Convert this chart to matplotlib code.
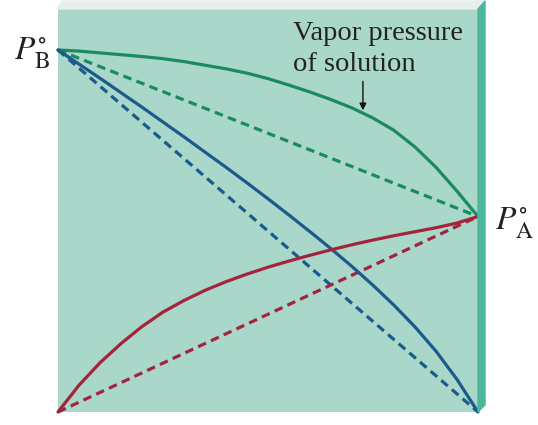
import numpy as np
import matplotlib
matplotlib.use('Agg')
import matplotlib.pyplot as plt
from matplotlib.patches import Polygon

plt.rcParams['mathtext.fontset'] = 'stix'
plt.rcParams['font.family'] = ['Liberation Serif', 'DejaVu Serif']

# mole fraction of A (0 = pure B at left, 1 = pure A at right)
pB0 = 100.0   # vapor pressure of pure B
pA0 = 54.0    # vapor pressure of pure A

# ideal (Raoult's law) straight lines
x_ideal = [0.0, 1.0]
total_ideal = [pB0, pA0]
pB_ideal = [pB0, 0.0]
pA_ideal = [0.0, pA0]

x_real = [0.00, 0.05, 0.10, 0.15, 0.20, 0.25, 0.30, 0.35, 0.40, 0.45, 0.50,
          0.55, 0.60, 0.65, 0.70, 0.75, 0.80, 0.85, 0.90, 0.95, 1.00]
p_total = [100.0, 99.7, 99.2, 98.7, 98.2, 97.6, 96.8, 95.8, 94.8, 93.6, 92.1,
           90.3, 88.4, 86.3, 84.0, 81.2, 77.8, 73.2, 67.6, 61.0, 54.0]
p_B = [100.0, 96.1, 92.2, 88.2, 84.2, 80.1, 76.0, 71.8, 67.6, 63.3, 58.9,
       54.4, 49.8, 45.1, 40.2, 35.0, 29.5, 23.5, 16.8, 9.0, 0.0]
p_A = [0.0, 7.4, 13.6, 18.9, 23.6, 27.6, 30.8, 33.6, 36.0, 38.1, 40.0,
       41.7, 43.3, 44.8, 46.2, 47.5, 48.7, 49.8, 50.9, 52.2, 54.0]

green = '#1b8a60'
blue = '#1d5a8c'
red = '#a3243c'
face = '#a9d7c9'

W, H = 538, 425
fig = plt.figure(figsize=(W / 100, H / 100), dpi=100)
ax = fig.add_axes([58 / W, 13 / H, 420 / W, 403 / H])
ax.set_facecolor(face)
ax.set_xlim(0, 1)
ax.set_ylim(0, 403 / 3.62)
ax.set_xticks([])
ax.set_yticks([])
for s in ax.spines.values():
    s.set_visible(False)

# 3D-looking edges of the panel
def px(pts):
    return [(x / W, 1 - y / H) for x, y in pts]

fig.add_artist(Polygon(px([(57, 9), (478, 9), (485, 1), (62, 1)]),
                       closed=True, color='#e6efeb', transform=fig.transFigure))
fig.add_artist(Polygon(px([(478, 9), (485, 1), (485, 405), (478, 412)]),
                       closed=True, color='#4cb89b', transform=fig.transFigure))

lw = 2.3
dash = (2.7, 1.7)
ax.plot(x_ideal, total_ideal, color=green, lw=lw, dashes=dash, clip_on=False)
ax.plot(x_ideal, pB_ideal, color=blue, lw=lw, dashes=dash, clip_on=False)
ax.plot(x_ideal, pA_ideal, color=red, lw=lw, dashes=dash, clip_on=False)

ax.plot(x_real, p_total, color=green, lw=lw, clip_on=False, solid_capstyle='round')
ax.plot(x_real, p_B, color=blue, lw=lw, clip_on=False, solid_capstyle='round')
ax.plot(x_real, p_A, color=red, lw=lw, clip_on=False, solid_capstyle='round')

ax.text(-0.018, pB0 - 2.5, r'$P^{\circ}_{\mathrm{B}}$', fontsize=24,
        ha='right', va='baseline', color='#222222')
ax.text(1.04, pA0 - 3.5, r'$P^{\circ}_{\mathrm{A}}$', fontsize=24,
        ha='left', va='baseline', color='#222222')

arrow_x = 0.726
tip = np.interp(arrow_x, x_real, p_total) + 0.8
ax.annotate('', xy=(arrow_x, tip), xytext=(arrow_x, tip + 8.0),
            arrowprops=dict(arrowstyle='-|>', color='#111111', lw=1.0,
                            mutation_scale=10, shrinkA=0, shrinkB=0))
ax.text(0.56, 108.0, 'Vapor pressure\nof solution', fontsize=20.5,
        ha='left', va='top', linespacing=1.3, color='#222222')

fig.savefig('out.png', dpi=100)
